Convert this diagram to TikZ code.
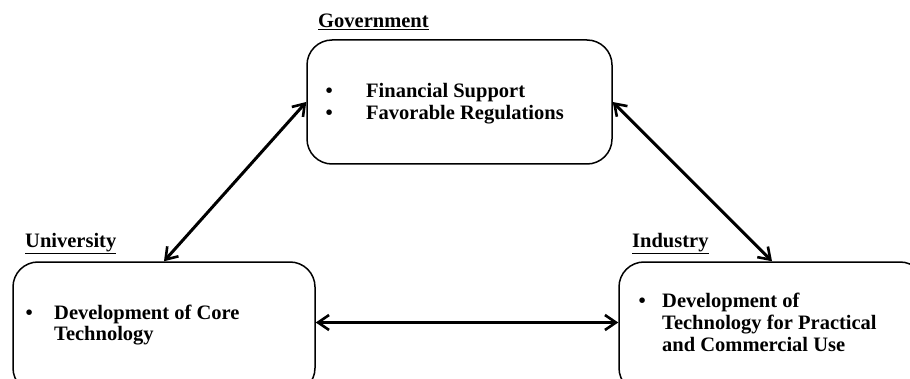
\documentclass[tikz,border=0pt]{standalone}
\usepackage{fontspec}
\setmainfont{Liberation Serif}
\usetikzlibrary{arrows.meta}
\begin{document}
\begin{tikzpicture}[x=1pt,y=1pt,
  box/.style={draw,line width=1.5pt,rounded corners=25pt,inner sep=0pt},
  txt/.style={anchor=base west,inner sep=0pt,font=\fontsize{20.5}{22}\selectfont\bfseries},
  link/.style={line width=3pt,{Straight Barb[length=11pt,width=15pt,line width=2.6pt]}-{Straight Barb[length=11pt,width=15pt,line width=2.6pt]}}]
\useasboundingbox (0,0) rectangle (910,378);
\clip (0,0) rectangle (910,378);
% boxes
\node[box,minimum width=305pt,minimum height=124pt] (gov) at (459.5,276) {};
\node[box,minimum width=302pt,minimum height=131pt] (uni) at (164,50.5) {};
\node[box,minimum width=306pt,minimum height=131pt] (ind) at (772,50.5) {};
% titles
\node[txt] (govt) at (318,350) {\underline{Government}};
\node[txt] (unit) at (25,131) {\underline{University}};
\node[txt] (indt) at (632,131) {\underline{Industry}};
% government items
\node[txt] (gb1) at (325.5,280) {•};
\node[txt] (g1) at (366,280) {Financial Support};
\node[txt] (gb2) at (325.5,258) {•};
\node[txt] (g2) at (366,258) {Favorable Regulations};
% university items
\node[txt] (ub1) at (25.5,59) {•};
\node[txt] (u1) at (54,59) {Development of Core};
\node[txt] (u2) at (54,38) {Technology};
% industry items
\node[txt] (ib1) at (638.5,71) {•};
\node[txt] (i1) at (662,71) {Development of};
\node[txt] (i2) at (662,49) {Technology for Practical};
\node[txt] (i3) at (662,27) {and Commercial Use};
% connectors
\draw[link] (gov.west) -- (uni.north);
\draw[link] (gov.east) -- (ind.north);
\draw[link] ([yshift=5pt]uni.east) -- ([yshift=5pt]ind.west);
\end{tikzpicture}
\end{document}
